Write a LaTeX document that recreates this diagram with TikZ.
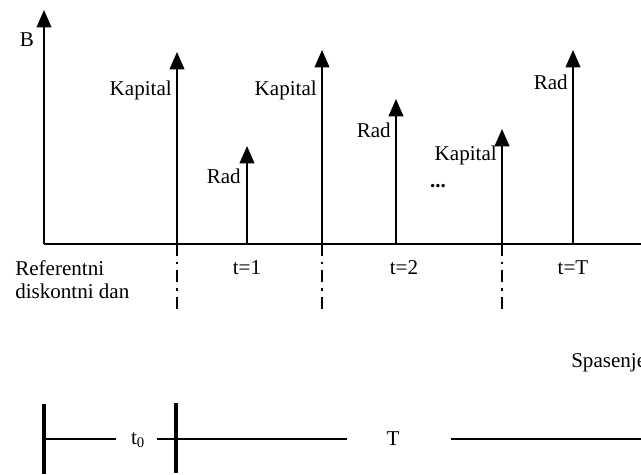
\documentclass[tikz,border=0pt]{standalone}
\usepackage{fontspec}
\setmainfont{Liberation Serif}
\usetikzlibrary{arrows.meta}
\begin{document}
\begin{tikzpicture}[x=0.75pt,y=-0.75pt,
  lbl/.style={font=\fontsize{15.8}{19}\selectfont, inner sep=0pt},
  flow/.style={line width=1.5pt, -{Triangle[width=11pt,length=13pt]}},
  axisline/.style={line width=1.5pt},
  dashdot/.style={line width=2.2pt, dash pattern=on 9pt off 4.5pt on 1.8pt off 4.5pt},
  bar/.style={line width=2.4pt},
  span/.style={line width=1.2pt}]
\useasboundingbox (0,0) rectangle (641,474);
\clip (0,0) rectangle (641,474);
% axes
\coordinate (O) at (44,244);
\coordinate (Btip) at (44,10);
\coordinate (Xend) at (641,244);
\draw[flow] (O) -- (Btip);
\draw[axisline] (O) -- (Xend);
\node[lbl] (B) at (27,40) {B};
% cash flows
\foreach \name/\x/\y in {k1/177/52, r1/247/146, k2/322/50, r2/396/99, k3/502/129, r3/573/50}{
  \coordinate (\name b) at (\x,244);
  \coordinate (\name t) at (\x,\y);
  \draw[flow] (\name b) -- (\name t);
}
\node[lbl, anchor=east] (K1) at (172,90) {Kapital};
\node[lbl, anchor=east] (R1) at (241,176) {Rad};
\node[lbl, anchor=east] (K2) at (317,90) {Kapital};
\node[lbl, anchor=east] (R2) at (391,130) {Rad};
\node[lbl, anchor=east] (K3) at (497,155) {Kapital};
\node[lbl, anchor=east] (R3) at (568,82) {Rad};
\node[lbl, font=\bfseries\fontsize{15.8}{19}\selectfont] (dots) at (438,186) {...};
% dash-dot markers
\foreach \x [count=\i] in {177,322,502}{
  \coordinate (d\i a) at (\x,244);
  \coordinate (d\i b) at (\x,314);
  \draw[dashdot] (d\i a) -- (d\i b);
}
% period labels
\node[lbl, anchor=west] (ref1) at (15,268) {Referentni};
\node[lbl, anchor=west] (ref2) at (15,291) {diskontni dan};
\node[lbl] (t1) at (247,268) {t=1};
\node[lbl] (t2) at (404,268) {t=2};
\node[lbl] (tT) at (573,268) {t=T};
% bottom timeline
\node[lbl, anchor=west] (sp) at (571,363) {Spasenje};
\coordinate (bar1a) at (44,404);
\coordinate (bar1b) at (44,474);
\coordinate (bar2a) at (176,403);
\coordinate (bar2b) at (176,473);
\draw[bar] (bar1a) -- (bar1b);
\draw[bar] (bar2a) -- (bar2b);
\node[lbl] (t0) at (138,440) {t\textsubscript{0}};
\node[lbl] (T) at (393,439) {T};
\coordinate (l1) at (44,439);
\coordinate (l1e) at (116,439);
\coordinate (l2) at (157,439);
\coordinate (l2e) at (347,439);
\coordinate (l3) at (451,439);
\coordinate (l3e) at (641,439);
\draw[span] (l1) -- (l1e);
\draw[span] (l2) -- (l2e);
\draw[span] (l3) -- (l3e);
\end{tikzpicture}
\end{document}
